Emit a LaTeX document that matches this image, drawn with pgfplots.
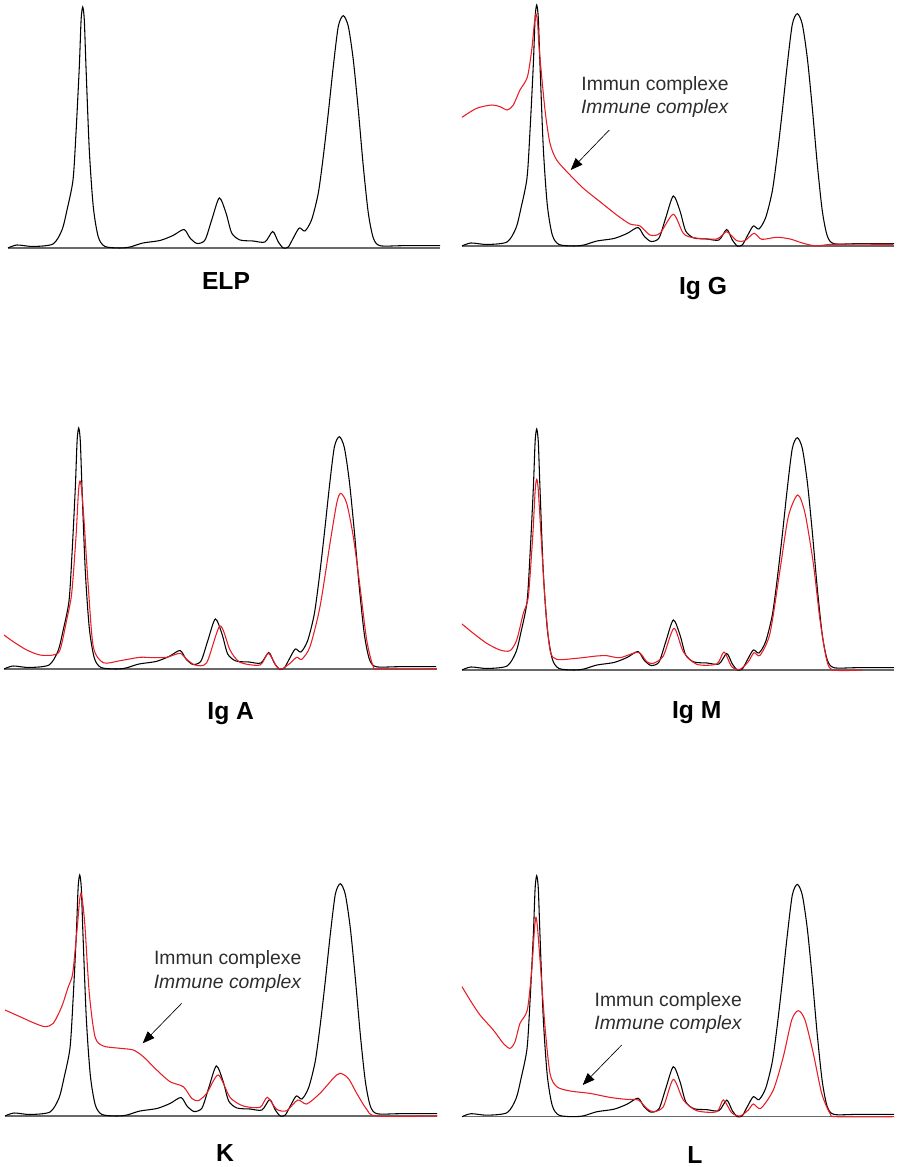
\documentclass[border=0pt]{standalone}
\usepackage{fontspec}
\setmainfont{Liberation Sans}
\usepackage{pgfplots}
\usepackage{pgfplotstable}
\pgfplotsset{compat=1.18}
\usetikzlibrary{arrows.meta}
\definecolor{redc}{RGB}{232,28,36}
\definecolor{basec}{RGB}{105,105,105}
\definecolor{txtc}{RGB}{45,45,45}

\pgfplotstableread{
x y
0 0
9 3
25 1.5
45 4
54 18
59 38
65 68
68 115
71.3 181
73.1 228
74.7 241
76.3 228
78 181
81.3 98
85.3 41
90.3 11
97 1.5
112 0
122 1
135 5
152 7.5
165 12.5
176 18.5
182 10
189 4.5
197 8
203.7 28
211.3 50
218 35
223.7 15
232 8
245 7
257 6
264.7 16.5
270.3 6
275.3 0
280.3 1
285.3 10
291.3 20
297 17
303.7 28.5
310.3 55
315.3 91.6
320.3 135
325.3 181.6
330.3 221.6
335.3 232.3
340.3 221.6
345.3 188
350.3 138
355.3 81.6
360.3 35
365.3 10
372 2.3
395 2.3
432 2.3
}\blackdata

\pgfplotstableread{
x y
0 128.7
14.7 137.7
29.7 141
38 139.3
45.3 136
51.3 141
58 156
65.3 168.7
69.7 196
72.4 223
74 232
75.6 223
77.3 196
83 136
88 102.7
94.7 86
108 71
121.3 57.7
138 44.3
154.7 31
168 22
178 20
188 11
198 12.7
211.3 31.7
221.3 12.7
231.3 8.3
254.7 7
264.7 14.3
274.7 5.3
283 5.3
292 12.7
299.7 6.7
314.7 8.7
328 7
341.3 2.7
354.7 0
371.3 1.7
431.3 1.7
}\redG

\pgfplotstableread{
x y
0 34
9.3 27.3
22.7 19
36 14
49.3 14
56 19
62.7 49
67.7 75.7
72 132.3
74.5 178
76 188
77.5 180
80 149
84.3 82.3
89.3 22.3
99.3 6.3
116 8.3
136 11.7
149.3 11.3
162.7 11.7
176 15.7
182.7 9.7
191 4
202.7 6.3
216 43
226 19
236 6.7
256 4
264.3 15.7
272.7 2.3
277.7 0
286 5.7
292.7 11.7
297.7 9.7
306 22.3
316 62.3
326 125.7
332.7 165.7
336.7 175.7
342.7 165.7
349.3 132.3
356 82.3
362.7 29
369.3 2.3
376 0
432.7 0
}\redA

\pgfplotstableread{
x y
0 46
11.3 36.7
24.7 26.7
38 20
48 19.3
54.7 30
61.3 56.7
66.3 73.3
70.7 133.3
73.2 180
74.7 190.7
76.2 181
78.7 140
83 70
88 20
94.7 10.7
114.7 11.7
134.7 14
144.7 14.3
158 12.3
176.3 17.7
184.7 8.3
191.3 6.7
201.3 14
212 41.7
221.3 18.3
234.7 5.7
254.7 6
262 18
269.7 3.3
278 0.7
286.3 8.3
292 17.3
298 14.7
308 36.7
318 100
326.3 153.3
335.7 175
343 156.7
351.3 106.7
358 50
364.7 10
371.3 0
400 0
}\redM

\pgfplotstableread{
x y
0 106
15 99.3
28.3 93.3
40 89.3
48.3 92.7
56.7 109.3
63.3 129.3
67.7 142.7
72.3 189.3
74.5 215
76 222.7
77.5 215
80 189.3
84.3 122.7
90 79.3
98.3 70
115 67.7
128.3 66
138.3 59.3
151.7 46
165 34.3
178.3 29.3
186.7 17.7
193.3 15.3
201.7 22.7
213.3 41
225 18.7
238.3 10
255 8.7
262.3 18.7
271.7 6.7
281.7 5.3
292.7 16
301.7 12
315 22.7
328.3 37.7
335 42.7
343.3 37.7
351.7 22.7
361.7 6.7
371.7 0
432.3 0
}\redK

\pgfplotstableread{
x y
0 130
8 116.7
18 101.7
31.3 86.7
41.3 73.3
48 68.3
53 75
58 93.3
65.3 106.7
69.7 146.7
72.5 188
74 199.3
75.5 189
78 156.7
83 90
88 43.3
94.7 30
108 25.7
128 23.3
148 19.3
164.7 17.3
176.3 16.7
184.7 8.3
191.3 5
201.3 10
211.3 37.3
221.3 16.7
234.7 6
254.7 5
261.3 16.7
269.7 4
278 0.7
286.3 6.7
291.3 12.7
298.7 8.3
311.3 26.7
321.3 60
329.7 96.7
336.3 106
343 96.7
351.3 63.3
359.7 23.3
368 3.3
374.7 0
432 0
}\redL

\pgfplotsset{
  panel/.style={x=0.75pt,y=0.75pt,xmin=0,xmax=432,ymin=-60,ymax=250,
    hide axis,clip=false,anchor=south west},
  blk/.style={black,line width=0.8pt,smooth,tension=0.45},
  rd/.style={redc,line width=0.8pt,smooth,tension=0.45},
  bl/.style={basec,line width=1.1pt},
}
\newcommand{\lab}{\bfseries\fontsize{18.5}{21}\selectfont}
\newcommand{\ann}{\fontsize{14.5}{17.3}\selectfont}

\begin{document}
\begin{tikzpicture}
\useasboundingbox (0,0) rectangle (672pt,875.25pt);

% ELP
\begin{axis}[panel, at={(6pt,644.25pt)}]
\addplot[bl] coordinates {(0,0) (432,0)};
\addplot[blk] table {\blackdata};
\node[font=\lab,anchor=base] at (axis cs:218,-42) {ELP};
\end{axis}

% Ig G
\begin{axis}[panel, at={(346.5pt,645.75pt)}]
\addplot[bl] coordinates {(0,0) (432,0)};
\addplot[blk] table {\blackdata};
\addplot[rd] table {\redG};
\node[font=\lab,anchor=base] at (axis cs:241,-49) {Ig G};
\node[font=\ann,text=txtc,align=center] at (axis cs:193,149) {Immun complexe\\\textit{Immune complex}};
\draw[-{Triangle[length=9pt,width=7pt]},line width=0.5pt] (axis cs:147.3,116) -- (axis cs:108.7,76);
\end{axis}

% Ig A
\begin{axis}[panel, at={(3pt,328.5pt)}]
\addplot[bl] coordinates {(0,0) (433,0)};
\addplot[blk] table {\blackdata};
\addplot[rd] table {\redA};
\node[font=\lab,anchor=base] at (axis cs:226.7,-51) {Ig A};
\end{axis}

% Ig M
\begin{axis}[panel, at={(346.5pt,327.75pt)}]
\addplot[bl] coordinates {(0,0) (432,0)};
\addplot[blk] table {\blackdata};
\addplot[rd] table {\redM};
\node[font=\lab,anchor=base] at (axis cs:234.7,-49) {Ig M};
\end{axis}

% K
\begin{axis}[panel, at={(3.75pt,-6.75pt)}]
\addplot[bl] coordinates {(0,0) (432,0)};
\addplot[blk] table {\blackdata};
\addplot[rd] table {\redK};
\node[font=\lab,anchor=base] at (axis cs:220,-45.7) {K};
\node[font=\ann,text=txtc,align=center] at (axis cs:222.7,144.5) {Immun complexe\\\textit{Immune complex}};
\draw[-{Triangle[length=9pt,width=7pt]},line width=0.5pt] (axis cs:176.7,112.7) -- (axis cs:137.7,72.7);
\end{axis}

% L
\begin{axis}[panel, at={(346.5pt,-7.275pt)}]
\addplot[bl] coordinates {(0,0) (432,0)};
\addplot[blk] table {\blackdata};
\addplot[rd] table {\redL};
\node[font=\lab,anchor=base] at (axis cs:233,-46.6) {L};
\node[font=\ann,text=txtc,align=center] at (axis cs:206.3,103.5) {Immun complexe\\\textit{Immune complex}};
\draw[-{Triangle[length=9pt,width=7pt]},line width=0.5pt] (axis cs:159.7,71.7) -- (axis cs:120.7,31.7);
\end{axis}
\end{tikzpicture}
\end{document}
